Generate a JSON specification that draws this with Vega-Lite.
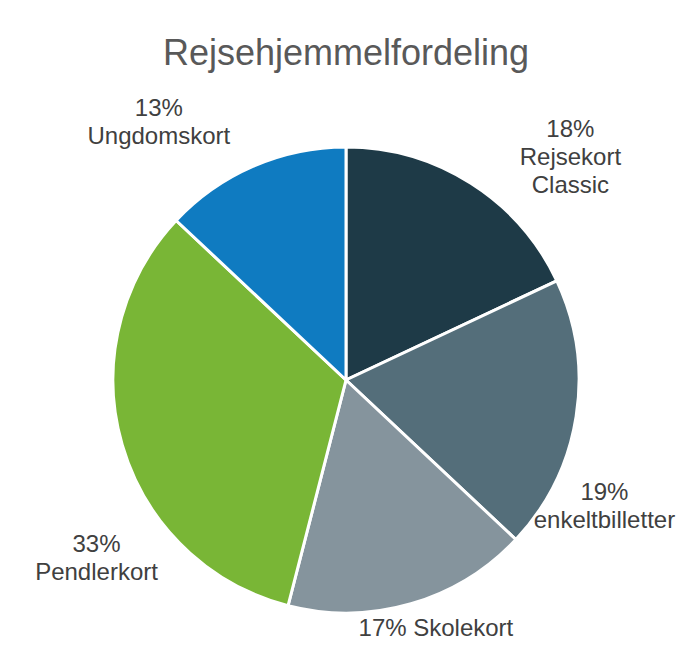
{
  "$schema": "https://vega.github.io/schema/vega-lite/v6.json",
  "width": 674,
  "height": 584,
  "autosize": {"type": "none"},
  "padding": {"left": 9, "top": 88, "right": 0, "bottom": 0},
  "background": "white",
  "title": {
    "text": "Rejsehjemmelfordeling",
    "fontSize": 36,
    "font": "Liberation Sans",
    "fontWeight": "normal",
    "color": "#595959",
    "offset": 0,
    "anchor": "middle"
  },
  "config": {"view": {"stroke": null}},
  "data": {
    "values": [
      {"label": "Rejsekort Classic", "value": 18, "rank": 1, "txt": "18%\nRejsekort\nClassic"},
      {"label": "enkeltbilletter", "value": 19, "rank": 2, "txt": "19%\nenkeltbilletter"},
      {"label": "Skolekort", "value": 17, "rank": 3, "txt": "17% Skolekort"},
      {"label": "Pendlerkort", "value": 33, "rank": 4, "txt": "33%\nPendlerkort"},
      {"label": "Ungdomskort", "value": 13, "rank": 5, "txt": "13%\nUngdomskort"}
    ]
  },
  "encoding": {
    "theta": {"field": "value", "type": "quantitative", "stack": true},
    "order": {"field": "rank", "type": "quantitative"}
  },
  "layer": [
    {
      "mark": {"type": "arc", "outerRadius": 233, "stroke": "white", "strokeWidth": 3},
      "encoding": {
        "color": {
          "field": "label",
          "type": "nominal",
          "scale": {
            "domain": ["Rejsekort Classic", "enkeltbilletter", "Skolekort", "Pendlerkort", "Ungdomskort"],
            "range": ["#1e3a47", "#546e7a", "#85949d", "#79b636", "#0f7bc1"]
          },
          "legend": null
        }
      }
    },
    {
      "mark": {"type": "text", "radius": 290, "dx": 69, "dy": -5, "fontSize": 24, "font": "Liberation Sans", "color": "#404040", "lineBreak": "\n", "lineHeight": 28, "align": "center", "baseline": "middle"},
      "encoding": {"text": {"condition": {"test": "datum.label === 'Rejsekort Classic'", "field": "txt"}, "value": ""}}
    },
    {
      "mark": {"type": "text", "radius": 290, "dx": -28, "dy": 68, "fontSize": 24, "font": "Liberation Sans", "color": "#404040", "lineBreak": "\n", "lineHeight": 28, "align": "center", "baseline": "middle"},
      "encoding": {"text": {"condition": {"test": "datum.label === 'enkeltbilletter'", "field": "txt"}, "value": ""}}
    },
    {
      "mark": {"type": "text", "radius": 290, "dx": 9, "dy": -29, "fontSize": 24, "font": "Liberation Sans", "color": "#404040", "lineBreak": "\n", "lineHeight": 28, "align": "center", "baseline": "middle"},
      "encoding": {"text": {"condition": {"test": "datum.label === 'Skolekort'", "field": "txt"}, "value": ""}}
    },
    {
      "mark": {"type": "text", "radius": 290, "dx": 29, "dy": 84, "fontSize": 24, "font": "Liberation Sans", "color": "#404040", "lineBreak": "\n", "lineHeight": 28, "align": "center", "baseline": "middle"},
      "encoding": {"text": {"condition": {"test": "datum.label === 'Pendlerkort'", "field": "txt"}, "value": ""}}
    },
    {
      "mark": {"type": "text", "radius": 290, "dx": -72, "dy": -5, "fontSize": 24, "font": "Liberation Sans", "color": "#404040", "lineBreak": "\n", "lineHeight": 28, "align": "center", "baseline": "middle"},
      "encoding": {"text": {"condition": {"test": "datum.label === 'Ungdomskort'", "field": "txt"}, "value": ""}}
    }
  ]
}
